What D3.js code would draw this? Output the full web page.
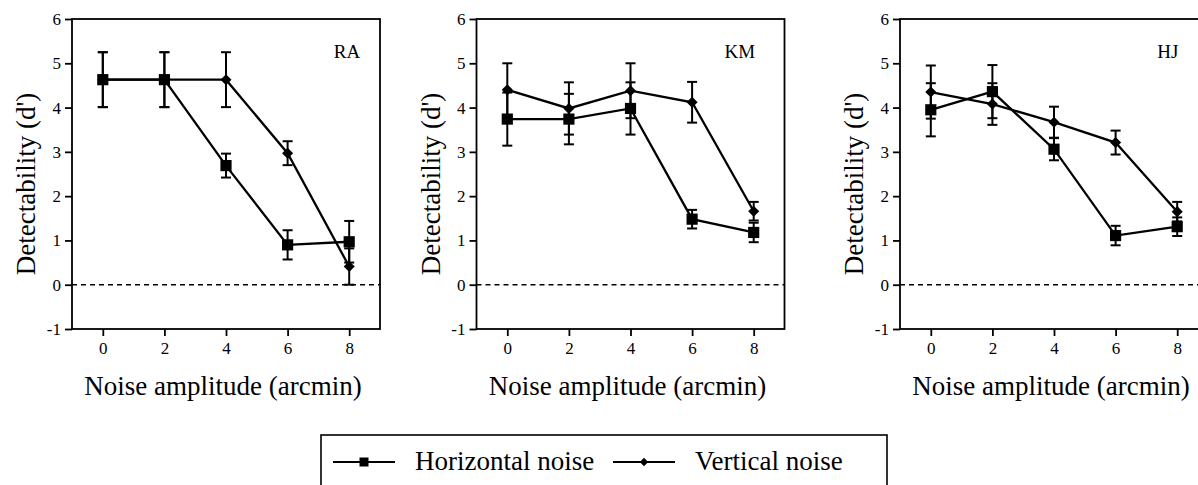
<!doctype html>
<html>
  <head>
    <meta charset="utf-8">
    <title>Detectability vs noise amplitude</title>
    <script src="https://cdnjs.cloudflare.com/ajax/libs/d3/7.8.5/d3.min.js"></script>
    <style>
      body { margin: 0; background: #fff; }
      svg { display: block; font-family: "Liberation Serif", "Times New Roman", serif; }
    </style>
  </head>
  <body>
    <div id="chart"></div>
    <script>
      // data
      const noise = [0, 2, 4, 6, 8];
      const subjects = ["RA", "KM", "HJ"];
      const yTicks = [-1, 0, 1, 2, 3, 4, 5, 6];

      // horizontal noise (squares)
      const raHoriz    = [4.63, 4.63, 2.69, 0.90, 0.97];
      const raHorizErr = [0.62, 0.62, 0.27, 0.33, 0.47];
      const kmHoriz    = [3.74, 3.74, 3.98, 1.48, 1.18];
      const kmHorizErr = [0.60, 0.57, 0.59, 0.21, 0.22];
      const hjHoriz    = [3.95, 4.36, 3.06, 1.11, 1.31];
      const hjHorizErr = [0.60, 0.60, 0.25, 0.22, 0.21];

      // vertical noise (diamonds)
      const raVert    = [4.63, 4.63, 4.63, 2.97, 0.41];
      const raVertErr = [0.62, 0.62, 0.62, 0.27, 0.41];
      const kmVert    = [4.40, 3.98, 4.38, 4.12, 1.66];
      const kmVertErr = [0.60, 0.59, 0.62, 0.46, 0.21];
      const hjVert    = [4.35, 4.08, 3.67, 3.21, 1.65];
      const hjVertErr = [0.60, 0.47, 0.35, 0.27, 0.22];

      const horiz = [raHoriz, kmHoriz, hjHoriz];
      const horizErr = [raHorizErr, kmHorizErr, hjHorizErr];
      const vert = [raVert, kmVert, hjVert];
      const vertErr = [raVertErr, kmVertErr, hjVertErr];

      // layout
      const W = 1198, H = 485;
      const panelLeft = [72, 476.5, 900];
      const panelW = 308, panelTop = 19, panelH = 310;
      const labelAt = [7.5, 7.05, 7.35];

      const svg = d3.select('#chart').append('svg')
        .attr('width', W).attr('height', H);
      svg.append('rect').attr('width', W).attr('height', H).attr('fill', '#fff');

      const y = d3.scaleLinear().domain([-1, 6]).range([panelH, 0]);

      subjects.forEach((name, p) => {
        const x = d3.scaleLinear().domain([-1, 9]).range([0, panelW]);
        const g = svg.append('g').attr('transform', `translate(${panelLeft[p]},${panelTop})`);

        // frame
        g.append('rect')
          .attr('width', panelW).attr('height', panelH)
          .attr('fill', 'none').attr('stroke', '#000').attr('stroke-width', 1.8);

        // axes
        const yAxis = g.append('g')
          .call(d3.axisLeft(y).tickValues(yTicks).tickSize(7).tickPadding(4).tickFormat(d3.format('d')));
        const xAxis = g.append('g').attr('transform', `translate(0,${panelH})`)
          .call(d3.axisBottom(x).tickValues(noise).tickSize(7).tickPadding(6));
        [yAxis, xAxis].forEach(a => {
          a.attr('font-size', null).attr('font-family', null);
          a.select('.domain').remove();
          a.selectAll('line').attr('stroke', '#000').attr('stroke-width', 1.8);
          a.selectAll('text')
            .style('font-family', '"Liberation Serif", serif')
            .style('font-size', '17px')
            .style('fill', '#000');
        });
        yAxis.selectAll('text').text(d => d < 0 ? '-' + Math.abs(d) : d);

        // zero line
        g.append('line')
          .attr('x1', 0).attr('x2', panelW)
          .attr('y1', y(0)).attr('y2', y(0))
          .attr('stroke', '#000').attr('stroke-width', 1.6)
          .attr('stroke-dasharray', '5,4');

        // titles
        g.append('text')
          .attr('transform', 'rotate(-90)')
          .attr('x', -(184 - panelTop)).attr('y', -37)
          .attr('text-anchor', 'middle')
          .attr('font-size', 27)
          .text("Detectability (d')");
        g.append('text')
          .attr('x', panelW / 2 - 3).attr('y', 395 - panelTop)
          .attr('text-anchor', 'middle')
          .attr('font-size', 27)
          .text('Noise amplitude (arcmin)');
        g.append('text')
          .attr('x', x(labelAt[p])).attr('y', 58 - panelTop)
          .attr('font-size', 19)
          .text(name);

        const line = d3.line().x((d, i) => x(noise[i])).y(d => y(d));

        // vertical first, horizontal drawn on top
        const series = [
          { vals: vert[p], err: vertErr[p], shape: 'diamond' },
          { vals: horiz[p], err: horizErr[p], shape: 'square' }
        ];

        series.forEach(s => {
          const eb = g.append('g');
          s.vals.forEach((v, i) => {
            const cx = x(noise[i]);
            const hi = y(v + s.err[i]), lo = y(v - s.err[i]);
            eb.append('line').attr('x1', cx).attr('x2', cx).attr('y1', hi).attr('y2', lo)
              .attr('stroke', '#000').attr('stroke-width', 2);
            [hi, lo].forEach(yy => {
              eb.append('line').attr('x1', cx - 5).attr('x2', cx + 5).attr('y1', yy).attr('y2', yy)
                .attr('stroke', '#000').attr('stroke-width', 2);
            });
          });
          g.append('path').datum(s.vals)
            .attr('d', line).attr('fill', 'none')
            .attr('stroke', '#000').attr('stroke-width', 2.3);
          const sym = s.shape === 'square'
            ? d3.symbol().type(d3.symbolSquare).size(125)
            : d3.symbol().type(d3.symbolDiamond2).size(78);
          g.selectAll(null).data(s.vals).join('path')
            .attr('transform', (d, i) => `translate(${x(noise[i])},${y(d)})`)
            .attr('d', sym).attr('fill', '#000');
        });
      });

      // legend
      const leg = svg.append('g');
      leg.append('rect')
        .attr('x', 321).attr('y', 435).attr('width', 566).attr('height', 80)
        .attr('fill', 'none').attr('stroke', '#000').attr('stroke-width', 1.6);
      const legItems = [
        { label: 'Horizontal noise', x0: 333, tx: 415, sym: d3.symbol().type(d3.symbolSquare).size(81) },
        { label: 'Vertical noise', x0: 613, tx: 695, sym: d3.symbol().type(d3.symbolDiamond2).size(45) }
      ];
      legItems.forEach(it => {
        leg.append('line').attr('x1', it.x0).attr('x2', it.x0 + 62).attr('y1', 462).attr('y2', 462)
          .attr('stroke', '#000').attr('stroke-width', 2);
        leg.append('path').attr('transform', `translate(${it.x0 + 31},462)`)
          .attr('d', it.sym).attr('fill', '#000');
        leg.append('text').attr('x', it.tx).attr('y', 470).attr('font-size', 27).text(it.label);
      });
    </script>
  </body>
</html>
